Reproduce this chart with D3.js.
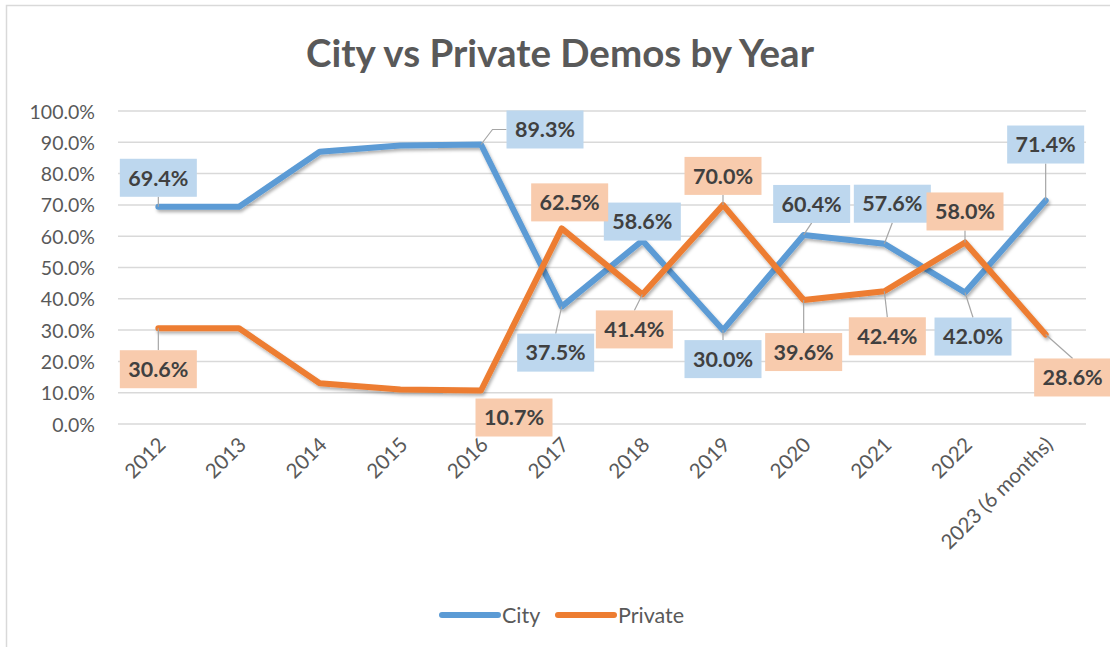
<!DOCTYPE html>
<html>
<head>
<meta charset="utf-8">
<script src="https://cdn.jsdelivr.net/npm/d3@7"></script>
<style>
  body { margin: 0; background: #fff; }
  svg { display: block; font-family: Lato, "Open Sans", sans-serif; }
  .grid line { stroke: #d9d9d9; stroke-width: 1.5; }
  .tick text { fill: #595959; }
  .lbl text { font-weight: bold; fill: #404040; }
  .leader { stroke: #a6a6a6; stroke-width: 1.2; fill: none; }
</style>
</head>
<body>
<svg width="1110" height="647"></svg>
<script>
var years = ["2012", "2013", "2014", "2015", "2016", "2017", "2018", "2019", "2020", "2021", "2022", "2023 (6 months)"];
var city    = [69.4, 69.4, 87.0, 89.0, 89.3, 37.5, 58.6, 30.0, 60.4, 57.6, 42.0, 71.4];
var priv    = [30.6, 30.6, 13.0, 11.0, 10.7, 62.5, 41.4, 70.0, 39.6, 42.4, 58.0, 28.6];
var yTicks  = [0, 10, 20, 30, 40, 50, 60, 70, 80, 90, 100];

// label placement, px offset from the point (null = no label)
var cityLabelOff = [[0, -29], null, null, null, [64, -15], [-6, 46], [0, -19], [0, 29], [8, -31], [8, -40], [8, 44], [0, -56]];
var privLabelOff = [[0, 41], null, null, null, [33, 27], [8, -26], [-8, 35], [0, -29], [0, 52], [3, 45], [0, -31], [27, 43]];

var svg = d3.select("svg"),
    plotL = 118, plotR = 1086, plotT = 111, plotB = 424;

// chart frame
svg.append("rect")
    .attr("x", 6.5).attr("y", 5.5)
    .attr("width", 1120).attr("height", 660)
    .attr("fill", "#fff")
    .attr("stroke", "#d9d9d9").attr("stroke-width", 1.5);

var defs = svg.append("defs");
defs.append("filter").attr("id", "shadow")
    .attr("x", "-10%").attr("y", "-10%").attr("width", "120%").attr("height", "130%")
  .append("feDropShadow")
    .attr("dx", 1.5).attr("dy", 2.5).attr("stdDeviation", 1.8)
    .attr("flood-color", "#000").attr("flood-opacity", 0.3);

svg.append("text")
    .attr("x", 560).attr("y", 67)
    .attr("text-anchor", "middle")
    .attr("font-size", 38.5).attr("font-weight", "bold")
    .attr("fill", "#595959")
    .text("City vs Private Demos by Year");

var scaleX = d3.scalePoint()
    .domain(years)
    .range([plotL, plotR])
    .padding(0.5);

var scaleY = d3.scaleLinear()
    .domain([0, 100])
    .range([plotB, plotT]);

// gridlines
svg.append("g")
    .attr("class", "grid")
    .selectAll("line")
    .data(yTicks)
    .enter().append("line")
    .attr("x1", plotL).attr("x2", plotR)
    .attr("y1", function(d) { return scaleY(d); })
    .attr("y2", function(d) { return scaleY(d); });

// y axis
var yAxis = d3.axisLeft(scaleY)
    .tickValues(yTicks)
    .tickSize(0)
    .tickPadding(0)
    .tickFormat(function(d) { return d.toFixed(1) + "%"; });

var gy = svg.append("g")
    .attr("transform", "translate(95,0)")
    .call(yAxis);
gy.select(".domain").remove();
gy.selectAll("text").attr("font-size", 19.5).attr("font-family", "Lato").attr("dy", "0.36em");

// x axis
var xAxis = d3.axisBottom(scaleX).tickSize(0).tickPadding(0);
var gx = svg.append("g")
    .attr("transform", "translate(0," + plotB + ")")
    .call(xAxis);
gx.select(".domain").remove();
gx.selectAll("text")
    .attr("font-size", 20.5).attr("font-family", "Lato")
    .attr("text-anchor", "end")
    .attr("dy", "0")
    .attr("transform", "translate(8,22) rotate(-45)");

// lines
var line = d3.line()
    .x(function(d, i) { return scaleX(years[i]); })
    .y(function(d) { return scaleY(d); });

var series = [
    {name: "City", values: city, color: "#5b9bd5", fill: "#bdd7ee", off: cityLabelOff},
    {name: "Private", values: priv, color: "#ed7d31", fill: "#f8cbad", off: privLabelOff}
];

series.forEach(function(s) {
    svg.append("path")
        .attr("d", line(s.values))
        .attr("fill", "none")
        .attr("stroke", s.color)
        .attr("stroke-width", 6)
        .attr("stroke-linejoin", "round")
        .attr("stroke-linecap", "round")
        .attr("filter", "url(#shadow)");
});

// data labels
var boxW = 77, boxH = 38;
var leaders = svg.append("g");
series.forEach(function(s) {
    var g = svg.append("g").attr("class", "lbl");
    s.values.forEach(function(v, i) {
        var o = s.off[i];
        if (!o) return;
        var px = scaleX(years[i]), py = scaleY(v);
        var cx = px + o[0], cy = py + o[1];
        var x0 = cx - boxW / 2, y0 = cy - boxH / 2;
        // leader line
        if (py >= y0 && py <= y0 + boxH) {
            if (px < x0 - 8) {
                leaders.append("path").attr("class", "leader")
                    .attr("d", "M" + px + "," + py + "L" + (x0 - 14) + "," + cy + "H" + x0);
            }
        } else {
            var ey = py < y0 ? y0 : y0 + boxH;
            if (Math.abs(ey - py) > 8) {
                leaders.append("line").attr("class", "leader")
                    .attr("x1", px).attr("y1", py)
                    .attr("x2", cx).attr("y2", ey);
            }
        }
        g.append("rect")
            .attr("x", x0).attr("y", y0)
            .attr("width", boxW).attr("height", boxH)
            .attr("fill", s.fill);
        g.append("text")
            .attr("x", cx).attr("y", cy)
            .attr("dy", "0.36em")
            .attr("text-anchor", "middle")
            .attr("font-size", 21.5)
            .text(v.toFixed(1) + "%");
    });
});

// legend
var legend = svg.append("g").attr("transform", "translate(0,615)");
var legX = [442, 558];
series.forEach(function(s, i) {
    legend.append("line")
        .attr("x1", legX[i]).attr("x2", legX[i] + 56)
        .attr("stroke", s.color).attr("stroke-width", 6)
        .attr("stroke-linecap", "round");
    legend.append("text")
        .attr("x", legX[i] + 60).attr("dy", "0.36em")
        .attr("font-size", 21.5).attr("fill", "#595959")
        .text(s.name);
});
</script>
</body>
</html>
